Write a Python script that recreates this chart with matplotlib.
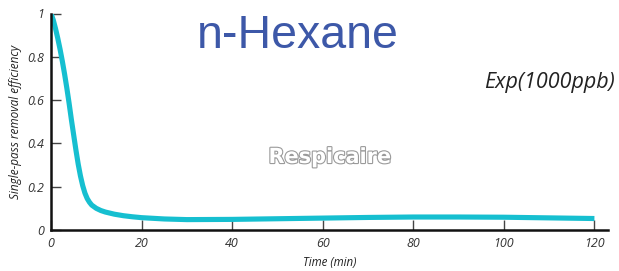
import matplotlib
matplotlib.use("Agg")
import matplotlib.pyplot as plt
import matplotlib.patheffects as pe

time_min = [0, 0.5, 1, 1.5, 2, 2.5, 3, 3.5, 4, 4.5, 5, 5.5, 6, 6.5, 7, 7.5, 8, 8.5, 9, 10, 11, 12, 14, 16, 18,
            20, 25, 30, 40, 50, 60, 70, 80, 90, 100, 110, 120]
efficiency = [1.0, 0.97, 0.93, 0.885, 0.835, 0.78, 0.72, 0.655, 0.585, 0.51, 0.44, 0.37, 0.305, 0.25, 0.205, 0.17,
              0.145, 0.128, 0.115, 0.1, 0.09, 0.083, 0.073, 0.066, 0.061,
              0.057, 0.051, 0.048, 0.049, 0.052, 0.055, 0.058, 0.06, 0.06, 0.059, 0.056, 0.053]
x_ticks = [0, 20, 40, 60, 80, 100, 120]
y_ticks = [0, 0.2, 0.4, 0.6, 0.8, 1.0]
y_ticklabels = ["0", "0.2", "0.4", "0.6", "0.8", "1"]

ital = "Open Sans"

fig = plt.figure(figsize=(6.19, 2.71), dpi=100)
ax = fig.add_axes([51/619, 41/271, (608-51)/619, (230-13.5)/271])

ax.plot(time_min, efficiency, color="#16bfd0", lw=3.7, solid_capstyle="butt", solid_joinstyle="round")

ax.set_xlim(0, 123)
ax.set_ylim(0, 1)
ax.set_xticks(x_ticks)
ax.set_yticks(y_ticks)
ax.set_yticklabels(y_ticklabels)

for s in ["top", "right"]:
    ax.spines[s].set_visible(False)
for s in ["left", "bottom"]:
    ax.spines[s].set_linewidth(1.8)
    ax.spines[s].set_color("#111111")

ax.tick_params(direction="in", length=7, width=1, color="#444444",
               labelsize=9, labelcolor="#333333", pad=5)
for lab in ax.get_xticklabels() + ax.get_yticklabels():
    lab.set_fontstyle("italic")
    lab.set_family(ital)

ax.set_xlabel("Time (min)", fontsize=8.3, fontstyle="italic", family=ital, color="#222222", labelpad=4)
ax.set_ylabel("Single-pass removal efficiency", fontsize=8.5, fontstyle="italic", family=ital,
              color="#222222", labelpad=4)

fig.text(298/619, 1 - 48/271, "n-Hexane", fontsize=33.5, color="#3d58a8",
         family="Liberation Sans", ha="center", va="baseline")
fig.text(615/619, 1 - 88/271, "Exp(1000ppb)", fontsize=15.5, fontstyle="italic", family=ital,
         color="#222222", ha="right", va="baseline")

wm = fig.text(330/619, 1 - 157/271, "Respicaire", fontsize=15, fontweight="bold",
              family="DejaVu Sans", color="white", ha="center", va="center")
wm.set_path_effects([pe.Stroke(linewidth=1.6, foreground="#9a9a9a"), pe.Normal()])

fig.savefig("out.png", dpi=100)
